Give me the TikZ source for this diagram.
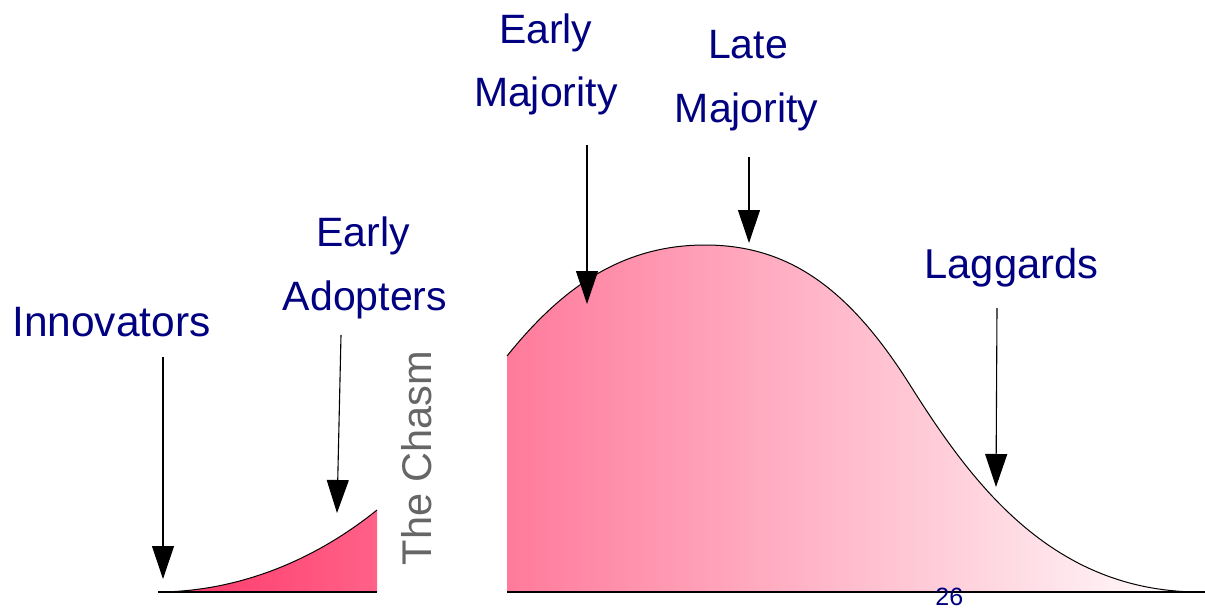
\documentclass[tikz,border=0pt]{standalone}
\usepackage{fontspec}
\setmainfont{Liberation Sans}
\usetikzlibrary{arrows.meta}
\definecolor{lblc}{RGB}{0,0,128}
\definecolor{chasmc}{RGB}{102,102,102}
\definecolor{pA}{RGB}{255,55,105}
\definecolor{pB}{RGB}{255,97,136}
\definecolor{pC}{RGB}{255,122,155}
\begin{document}
\begin{tikzpicture}[x=1pt,y=-1pt,
  lbl/.style={font=\fontsize{41}{49}\selectfont, text=lblc, anchor=base, inner sep=0pt},
  arr/.style={-{Triangle[width=22pt,length=33pt]}, line width=1.1pt},
  curve/.style={line width=1pt},
  base/.style={line width=1.2pt}]
\useasboundingbox (0,0) rectangle (1205,610);
% fills
\path[left color=pA, right color=pB] (160,592) .. controls (240,591) and (315,560) .. (377,510) -- (377,592) -- cycle;
\path[left color=pC, right color=white] (507,356) .. controls (560,290) and (620,245) .. (705,245)
  .. controls (790,245) and (850,290) .. (910,385)
  .. controls (970,480) and (1050,592) .. (1200,592) -- (507,592) -- cycle;
% outlines
\coordinate (s1) at (160,592);
\coordinate (s2) at (377,510);
\coordinate (s3) at (377,592);
\coordinate (s0) at (158,592);
\draw[curve] (s1) .. controls (240,591) and (315,560) .. (s2);
\draw[base] (s0) -- (s3);
\coordinate (b1) at (507,356);
\coordinate (b2) at (1200,592);
\coordinate (b3) at (507,592);
\coordinate (b4) at (1205,592);
\draw[curve] (b1) .. controls (560,290) and (620,245) .. (705,245)
  .. controls (790,245) and (850,290) .. (910,385)
  .. controls (970,480) and (1050,592) .. (b2);
\draw[base] (b3) -- (b4);
% labels
\node[lbl, font=\fontsize{42.5}{49}\selectfont] (inn) at (111.5,336) {Innovators};
\node[lbl] (ea1) at (363,246.7) {Early};
\node[lbl] (ea2) at (365,310) {Adopters};
\node[lbl] (em1) at (545.7,43.3) {Early};
\node[lbl] (em2) at (545.8,106.7) {Majority};
\node[lbl] (lm1) at (748,59) {Late};
\node[lbl] (lm2) at (746.7,122) {Majority};
\node[lbl, font=\fontsize{41.7}{49}\selectfont] (lag) at (1011.5,278) {Laggards};
\node[font=\fontsize{41.5}{49}\selectfont, text=chasmc, rotate=90, anchor=base, inner sep=0pt] (chasm) at (431.7,458) {The Chasm};
\node[font=\fontsize{25}{30}\selectfont, text=lblc, anchor=base, inner sep=0pt, text depth=0pt] (pg) at (949.3,605) {26};
% arrows
\coordinate (innS) at (163,357); \coordinate (innE) at (163,579);
\coordinate (eaS) at (341,335);  \coordinate (eaE) at (337,513);
\coordinate (emS) at (587,145);  \coordinate (emE) at (587,304);
\coordinate (lmS) at (749,157);  \coordinate (lmE) at (749,243);
\coordinate (lagS) at (997,308); \coordinate (lagE) at (996,487);
\draw[arr] (innS) -- (innE);
\draw[arr] (eaS) -- (eaE);
\draw[arr] (emS) -- (emE);
\draw[arr] (lmS) -- (lmE);
\draw[arr] (lagS) -- (lagE);
\end{tikzpicture}
\end{document}
